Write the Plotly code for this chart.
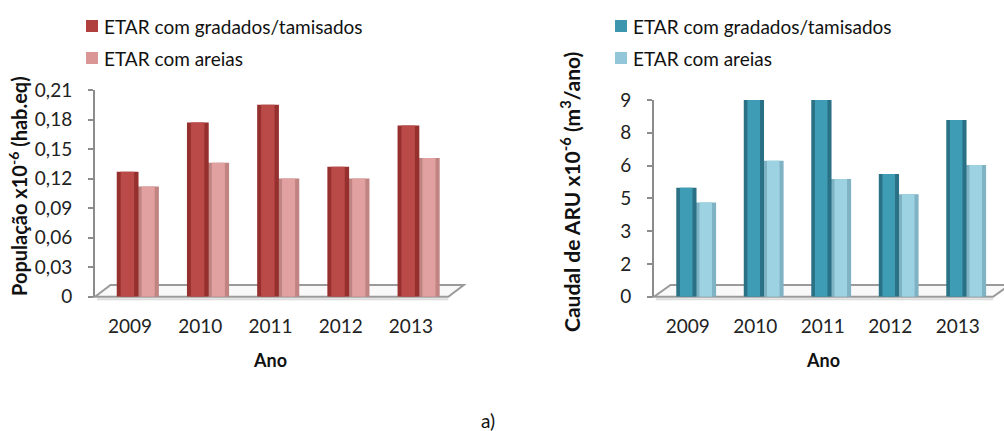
import plotly.graph_objects as go

# ---------------- data ----------------
years = ["2009", "2010", "2011", "2012", "2013"]
series_names = ["ETAR com gradados/tamisados", "ETAR com areias"]

pop_gradados = [0.127, 0.177, 0.195, 0.132, 0.174]
pop_areias = [0.112, 0.136, 0.120, 0.120, 0.141]

caudal_gradados = [4.99, 9.32, 9.32, 5.61, 8.09]
caudal_areias = [4.31, 6.22, 5.38, 4.69, 6.03]

pop_ticks = [0, 0.03, 0.06, 0.09, 0.12, 0.15, 0.18, 0.21]
pop_ticktext = ["0", "0,03", "0,06", "0,09", "0,12", "0,15", "0,18", "0,21"]
caudal_ticks = [0, 1.5, 3, 4.5, 6, 7.5, 9]
caudal_ticktext = ["0", "2", "3", "5", "6", "8", "9"]

# ---------------- style ----------------
W, H = 1004, 431
FONT = "Lato"
GRAY = "#8c8c8c"

def px(x):
    return x / W

def py(y):
    return 1 - y / H

red_dark, red_mid = "#96302e", "#ba4a47"
pink_dark, pink_mid = "#c08583", "#e1a1a0"
teal_dark, teal_mid = "#2a7186", "#3f9cb5"
ltb_dark, ltb_mid = "#7fb3c4", "#9dd2e3"

fig = go.Figure()

def add_cyl(x, y, xa, ya, off, wid, dark, mid):
    # base (darker edges)
    fig.add_trace(go.Bar(x=x, y=y, xaxis=xa, yaxis=ya, offset=off, width=wid,
                         marker=dict(color=dark, line=dict(width=0)),
                         showlegend=False, hoverinfo="y"))
    # lighter body
    fig.add_trace(go.Bar(x=x, y=y, xaxis=xa, yaxis=ya, offset=off + wid * 0.18,
                         width=wid * 0.62,
                         marker=dict(color=mid, line=dict(width=0)),
                         showlegend=False, hoverinfo="skip"))

# left chart
add_cyl(years, pop_areias, "x", "y", 0.11, 0.30, pink_dark, pink_mid)
add_cyl(years, pop_gradados, "x", "y", -0.19, 0.31, red_dark, red_mid)
# right chart
add_cyl(years, caudal_areias, "x2", "y2", 0.12, 0.30, ltb_dark, ltb_mid)
add_cyl(years, caudal_gradados, "x2", "y2", -0.17, 0.30, teal_dark, teal_mid)

tickfont = dict(family=FONT, size=19, color="#222")

fig.update_layout(
    width=W, height=H, autosize=False,
    margin=dict(l=0, r=0, t=0, b=0),
    paper_bgcolor="white", plot_bgcolor="rgba(0,0,0,0)",
    barmode="overlay", showlegend=False,
    xaxis=dict(domain=[px(95), px(446)], anchor="y", range=[-0.5, 4.5],
               type="category", showgrid=False, zeroline=False, showline=False,
               ticks="", tickfont=tickfont, ticklabelstandoff=16, automargin=False),
    yaxis=dict(domain=[py(296.7), py(90)], anchor="x", range=[0, 0.21],
               tickvals=pop_ticks, ticktext=pop_ticktext, showgrid=False,
               zeroline=False, showline=True, linecolor=GRAY, linewidth=2,
               ticks="outside", ticklen=5, tickcolor=GRAY, tickwidth=1.5,
               tickfont=tickfont, ticklabelstandoff=12, automargin=False),
    xaxis2=dict(domain=[px(654), px(991.5)], anchor="y2", range=[-0.5, 4.5],
                type="category", showgrid=False, zeroline=False, showline=False,
                ticks="", tickfont=tickfont, ticklabelstandoff=16, automargin=False),
    yaxis2=dict(domain=[py(296.7), py(100)], anchor="x2", range=[0, 9],
                tickvals=caudal_ticks, ticktext=caudal_ticktext, showgrid=False,
                zeroline=False, showline=True, linecolor=GRAY, linewidth=2,
                ticks="outside", ticklen=5, tickcolor=GRAY, tickwidth=1.5,
                tickfont=tickfont, ticklabelstandoff=12, automargin=False),
)

# 3D floor outlines (decoration)
def floor(x0, x1, dx, dy=11.7, yb=296.7):
    path = (f"M {px(x0)} {py(yb)} L {px(x0+dx)} {py(yb-dy)} L {px(x1+dx)} {py(yb-dy)} "
            f"L {px(x1)} {py(yb)} Z")
    fig.add_shape(type="path", path=path, xref="paper", yref="paper",
                  line=dict(color="#9a9a9a", width=2), fillcolor="rgba(245,245,245,0.6)",
                  layer="below")
    fig.add_shape(type="line", xref="paper", yref="paper",
                  x0=px(x0 + 2), x1=px(x1), y0=py(yb + 2.5), y1=py(yb + 2.5),
                  line=dict(color="#dcdcdc", width=2), layer="below")

floor(95, 448.3, 15.5)
floor(654, 993, 16.5)

def ann(x, y, text, size, xanchor="center", angle=0):
    fig.add_annotation(x=px(x), y=py(y), xref="paper", yref="paper", text=text,
                       textangle=angle, showarrow=False, xanchor=xanchor,
                       yanchor="middle",
                       font=dict(family=FONT, size=size, color="#111"))

# axis titles
ann(18, 186, "<b>População x10<sup>-6</sup> (hab.eq)</b>", 20, angle=-90)
ann(570, 192, "<b>Caudal de ARU x10<sup>-6</sup> (m<sup>3</sup>/ano)</b>", 21, angle=-90)
ann(270, 360, "<b>Ano</b>", 18)
ann(823, 360, "<b>Ano</b>", 18)
ann(488, 420, "a)", 19)

# legends (drawn manually)
def legend(xsq, colors):
    for i, (name, col) in enumerate(zip(series_names, colors)):
        yc = 26 + 32 * i
        fig.add_shape(type="rect", xref="paper", yref="paper",
                      x0=px(xsq), x1=px(xsq + 12), y0=py(yc - 6), y1=py(yc + 6),
                      fillcolor=col, line=dict(width=0))
        ann(xsq + 16, yc, name, 19, xanchor="left")

legend(86, ["#b0403e", "#d99694"])
legend(615, ["#3c96ae", "#93c6d8"])

fig.write_html("out.html", config={"displayModeBar": False},
               post_script="document.body.style.margin='0';document.body.style.padding='0';")
